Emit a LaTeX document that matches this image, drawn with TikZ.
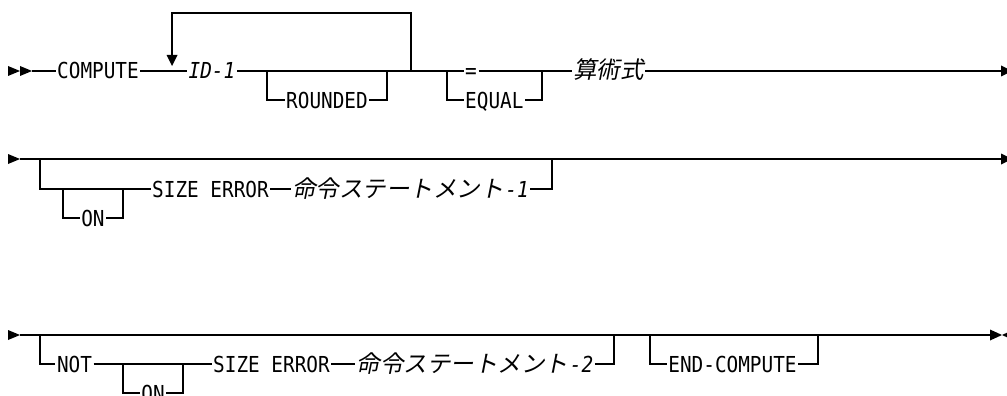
\documentclass[tikz,border=0pt]{standalone}
\usepackage{fontspec}
\newfontfamily\monof{DejaVu Sans Mono}[FakeStretch=0.88]
\newfontfamily\jpf{Noto Sans CJK JP}[FakeSlant=0.2]
\newcommand\kwsize{\fontsize{22}{26}\selectfont}
\newcommand\jpsize{\fontsize{23.5}{28}\selectfont}
\newcommand\suffixit[1]{{\kern1.5pt\monof\itshape\kwsize #1}}
\tikzset{
  rail/.style={line width=1.3pt, line join=miter},
  kw/.style={font=\monof\kwsize, inner xsep=1.5pt, inner ysep=0pt, text height=16pt, text depth=0pt},
  var/.style={kw, font=\monof\itshape\kwsize},
  jp/.style={kw, font=\jpf\jpsize},
  tip/.style={fill=black, draw=none}
}
\begin{document}
\begin{tikzpicture}[x=1pt,y=-1pt]
\useasboundingbox (0,0) rectangle (1007,396);
% ---------- row 1 ----------
\fill[tip] (8,66) -- (20,71) -- (8,76) -- cycle;
\fill[tip] (20,66) -- (32,71) -- (20,76) -- cycle;
\coordinate (s1) at (32,71);
\node[kw] (compute) at (98,71) {COMPUTE};
\node[var] (id1) at (212,71) {ID-1};
\node[kw] (rounded) at (327,100) {ROUNDED};
\node[kw, anchor=west] (eq) at (463.5,71) {=};
\node[kw, anchor=west] (equal) at (463.5,100) {EQUAL};
\node[jp] (expr) at (608.5,71) {算術式};
\coordinate (jr) at (411,71);
\coordinate (lt) at (172,13);
\coordinate (tritop) at (172,55);
\coordinate (r1) at (267,71);
\coordinate (r2) at (387,71);
\coordinate (e1) at (447,71);
\coordinate (e2) at (542,71);
\coordinate (end1) at (1001,71);
\draw[rail] (s1) -- (compute.west);
\draw[rail] (compute.east) -- (id1.west);
\draw[rail] (id1.east) -- (eq.west);
\draw[rail] (eq.east) -- (expr.west);
\draw[rail] (expr.east) -- (end1);
\draw[rail] (jr) |- (lt) -- (tritop);
\fill[tip] (166.5,55) -- (177.5,55) -- (172,66) -- cycle;
\draw[rail] (r1) |- (rounded.west);
\draw[rail] (rounded.east) -| (r2);
\draw[rail] (e1) |- (equal.west);
\draw[rail] (equal.east) -| (e2);
\fill[tip] (1001,65.5) -- (1012,71) -- (1001,76.5) -- cycle;
% ---------- row 2 ----------
\fill[tip] (8,154) -- (20,159) -- (8,164) -- cycle;
\coordinate (s2) at (20,159);
\coordinate (end2) at (1001,159);
\coordinate (b2l) at (40,159);
\coordinate (b2r) at (552,159);
\coordinate (o1l) at (63,189);
\coordinate (o1r) at (123,189);
\node[kw] (size1) at (210.5,189) {SIZE ERROR};
\node[kw] (on1) at (93,218) {ON};
\node[jp] (stmt1) at (410.5,189) {命令ステートメント\suffixit{-1}};
\draw[rail] (s2) -- (end2);
\fill[tip] (1001,153.5) -- (1012,159) -- (1001,164.5) -- cycle;
\draw[rail] (b2l) |- (size1.west);
\draw[rail] (o1l) |- (on1.west);
\draw[rail] (on1.east) -| (o1r);
\draw[rail] (size1.east) -- (stmt1.west);
\draw[rail] (stmt1.east) -| (b2r);
% ---------- row 3 ----------
\fill[tip] (8,330) -- (20,335) -- (8,340) -- cycle;
\coordinate (s3) at (20,335);
\coordinate (end3) at (990,335);
\coordinate (b3l) at (40,335);
\coordinate (b3r) at (614,335);
\coordinate (o2l) at (123,364);
\coordinate (o2r) at (183,364);
\coordinate (ec1) at (650,335);
\coordinate (ec2) at (818,335);
\node[kw] (not) at (74.5,364) {NOT};
\node[kw] (size2) at (271.5,364) {SIZE ERROR};
\node[kw] (on2) at (153,393) {ON};
\node[jp] (stmt2) at (475,364) {命令ステートメント\suffixit{-2}};
\node[kw] (endc) at (732.5,364) {END-COMPUTE};
\draw[rail] (s3) -- (end3);
\fill[tip] (990,329.5) -- (1002,335) -- (990,340.5) -- cycle;
\fill[tip] (1002,335) -- (1014,329.5) -- (1014,340.5) -- cycle;
\draw[rail] (b3l) |- (not.west);
\draw[rail] (not.east) -- (size2.west);
\draw[rail] (o2l) |- (on2.west);
\draw[rail] (on2.east) -| (o2r);
\draw[rail] (size2.east) -- (stmt2.west);
\draw[rail] (stmt2.east) -| (b3r);
\draw[rail] (ec1) |- (endc.west);
\draw[rail] (endc.east) -| (ec2);
\end{tikzpicture}
\end{document}
